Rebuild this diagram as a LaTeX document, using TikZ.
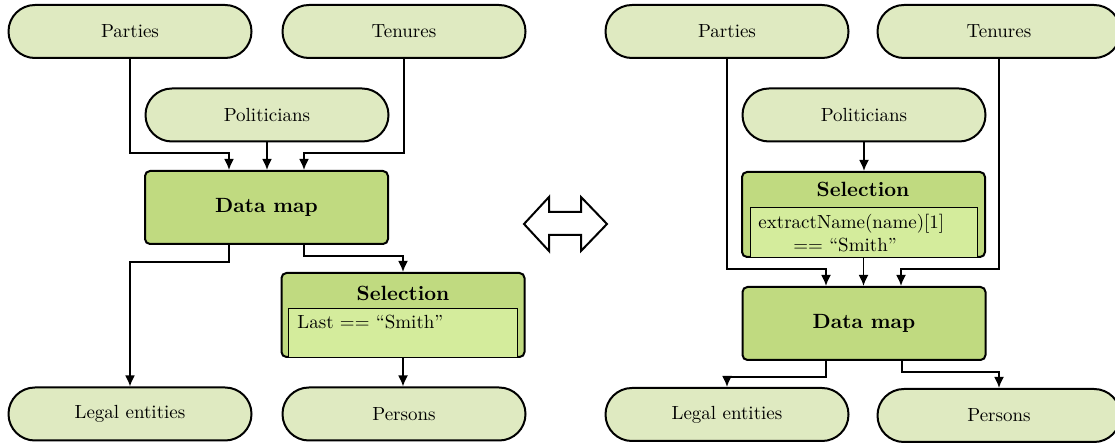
\documentclass[tikz,border=0pt]{standalone}
\usetikzlibrary{arrows.meta}
\definecolor{pillc}{HTML}{DFEAC1}
\definecolor{mapc}{HTML}{C0DA80}
\definecolor{innc}{HTML}{D4EC9C}
\begin{document}
\begin{tikzpicture}[x=0.5pt,y=-0.5pt,
  pill/.style={draw, line width=1pt, fill=pillc, rounded corners=13.2pt, minimum width=121.5pt, minimum height=26.5pt, font=\fontsize{9.5}{11}\selectfont, inner sep=0pt},
  mapbox/.style={draw, line width=1pt, fill=mapc, rounded corners=2.5pt, inner sep=0pt, minimum width=121.5pt},
  innerbox/.style={fill=innc, inner sep=0pt},
  innerline/.style={line width=0.6pt},
  btitle/.style={font=\fontsize{10.3}{12}\selectfont\bfseries, inner sep=0pt},
  ntext/.style={font=\fontsize{9.5}{11.5}\selectfont, inner sep=0pt, align=left},
  conn/.style={line width=0.9pt, -{Latex[length=5.5pt,width=5pt]}},
  bigarrow/.style={draw, line width=1pt, fill=white},
]
\useasboundingbox (0,0) rectangle (1115,443);

% ---------------- left diagram ----------------
\node[pill] (parL) at (130,31.5) {Parties};
\node[pill] (tenL) at (404,31.5) {Tenures};
\node[pill] (polL) at (267,115) {Politicians};
\node[mapbox, minimum height=36.5pt, btitle] (dmL) at (266.5,207.5) {Data map};
\node[mapbox, minimum height=42pt] (selL) at (403,315) {};
\node[innerbox, minimum width=114pt, minimum height=24pt] (selLb) at (403,333) {};
\draw[innerline] (selLb.south west) |- (selLb.north east) -- (selLb.south east);
\node[btitle] (selLt) at (403,293) {Selection};
\node[ntext, anchor=base west] (selLx) at (297,329) {Last == “Smith”};
\node[pill] (legL) at (130,414) {Legal entities};
\node[pill] (perL) at (404,414) {Persons};

\coordinate (kL1) at (229,153);
\coordinate (kL2) at (304,153);
\coordinate (kL3) at (229,262);
\coordinate (kL4) at (304,256);
\draw[conn] (parL.south) |- (kL1) -- (kL1 |- dmL.north);
\draw[conn] (polL.south) -- (polL.south |- dmL.north);
\draw[conn] (tenL.south) |- (kL2) -- (kL2 |- dmL.north);
\draw[conn] (kL3 |- dmL.south) -- (kL3) -| (legL.north);
\draw[conn] (kL4 |- dmL.south) -- (kL4) -| (selL.north);
\draw[conn] (selL.south) -- (selL.south |- perL.north);

% ---------------- double arrow ----------------
\draw[bigarrow] (524,224) -- (549,197) -- (549,212) -- (581,212) -- (581,197)
  -- (607,224) -- (581,251) -- (581,235) -- (549,235) -- (549,251) -- cycle;

% ---------------- right diagram ----------------
\node[pill] (parR) at (727,31.5) {Parties};
\node[pill] (tenR) at (999,31.5) {Tenures};
\node[pill] (polR) at (864,115) {Politicians};
\node[mapbox, minimum height=42.5pt] (selR) at (863.5,214.5) {};
\node[innerbox, minimum width=113pt, minimum height=24.5pt] (selRb) at (864,232.5) {};
\draw[innerline] (selRb.south west) |- (selRb.north east) -- (selRb.south east);
\node[btitle] (selRt) at (863,189) {Selection};
\node[ntext, anchor=north west] (selRx) at (758,214) {extractName(name)[1]\\\hspace*{17.5pt}== “Smith”};
\node[mapbox, minimum height=36.5pt, btitle] (dmR) at (864,323.5) {Data map};
\node[pill] (legR) at (727,414.5) {Legal entities};
\node[pill] (perR) at (999,415.5) {Persons};

\coordinate (kR1) at (826,269);
\coordinate (kR2) at (901,269);
\coordinate (kR3) at (826,377);
\coordinate (kR4) at (902,372);
\draw[conn] (parR.south) |- (kR1) -- (kR1 |- dmR.north);
\draw[conn] (polR.south) -- (polR.south |- selR.north);
\draw[conn] (selR.south) -- (selR.south |- dmR.north);
\draw[conn] (tenR.south) |- (kR2) -- (kR2 |- dmR.north);
\draw[conn] (kR3 |- dmR.south) -- (kR3) -| (legR.north);
\draw[conn] (kR4 |- dmR.south) -- (kR4) -| (perR.north);
\end{tikzpicture}
\end{document}
